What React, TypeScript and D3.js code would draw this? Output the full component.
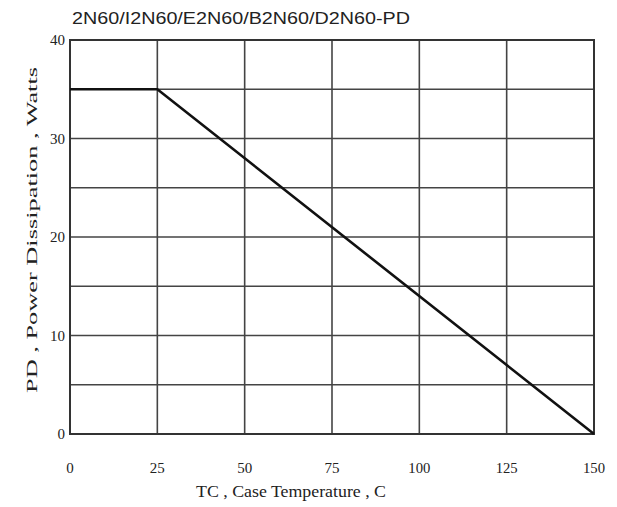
import React from "react";
import * as d3 from "d3";

const title = "2N60/I2N60/E2N60/B2N60/D2N60-PD";
const xTicks = [0, 25, 50, 75, 100, 125, 150];
const yTicks = [0, 10, 20, 30, 40];
const yGrid = [0, 5, 10, 15, 20, 25, 30, 35, 40];
const tempC = [0, 25, 150];
const powerW = [35, 35, 0];

export default function App() {
  const W = 617, H = 507;
  const x = d3.scaleLinear().domain([0, 150]).range([70, 594]);
  const y = d3.scaleLinear().domain([0, 40]).range([434, 40]);
  const line = d3.line<number>().x((_, i) => x(tempC[i])).y((d) => y(d));
  const serif = "'Liberation Serif', 'Times New Roman', serif";
  return (
    <svg width={W} height={H} style={{ position: "absolute", left: 0, top: 0, background: "#fff" }}>
      <rect x={0} y={0} width={W} height={H} fill="#fff" />
      <text x={72} y={24} fontFamily="'Liberation Sans', Arial, sans-serif" fontSize={16} fill="#222" textLength={338} lengthAdjust="spacingAndGlyphs">{title}</text>
      {yGrid.map((v) => (
        <line key={"h" + v} x1={x(0)} x2={x(150)} y1={y(v)} y2={y(v)} stroke="#444" strokeWidth={1.6} />
      ))}
      {xTicks.map((v) => (
        <line key={"v" + v} x1={x(v)} x2={x(v)} y1={y(0)} y2={y(40)} stroke="#444" strokeWidth={1.6} />
      ))}
      <rect x={x(0)} y={y(40)} width={x(150) - x(0)} height={y(0) - y(40)} fill="none" stroke="#333" strokeWidth={2} />
      <path d={line(powerW) || ""} fill="none" stroke="#111" strokeWidth={2.6} />
      {yTicks.map((v) => (
        <text key={"yt" + v} x={65} y={y(v) + 5} textAnchor="end" fontFamily={serif} fontSize={15} fill="#222">{v}</text>
      ))}
      {xTicks.map((v) => (
        <text key={"xt" + v} x={x(v)} y={473} textAnchor="middle" fontFamily={serif} fontSize={15} fill="#222" textLength={v >= 100 ? 22 : undefined} lengthAdjust="spacingAndGlyphs">{v}</text>
      ))}
      <text x={291} y={497} textAnchor="middle" fontFamily={serif} fontSize={16} fill="#222" textLength={190} lengthAdjust="spacingAndGlyphs">TC , Case Temperature , C</text>
      <text transform="translate(37,230) rotate(-90)" textAnchor="middle" fontFamily={serif} fontSize={15} fill="#222" textLength={326} lengthAdjust="spacingAndGlyphs">PD , Power Dissipation ,  Watts</text>
    </svg>
  );
}
